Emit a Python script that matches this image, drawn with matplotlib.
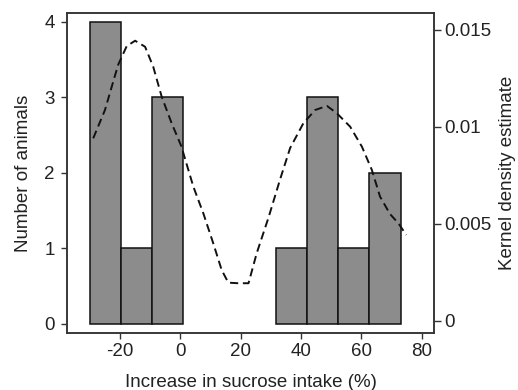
import matplotlib
matplotlib.use("Agg")
import matplotlib.pyplot as plt

plt.rcParams['font.family'] = ['Liberation Sans', 'DejaVu Sans']
plt.rcParams['axes.unicode_minus'] = False

# Histogram bins (edges) and counts
bin_edges = [-30.0, -19.7, -9.4, 0.9, 11.2, 21.5, 31.8, 42.1, 52.4, 62.7, 73.0]
counts = [4, 1, 3, 0, 0, 0, 1, 3, 1, 2]

# Kernel density curve
kde_x = [-28.9, -25.0, -22.5, -20.6, -17.8, -15.0, -11.7, -9.0, -6.2, -2.9, 0.3,
         4.3, 7.6, 10.9, 13.7, 15.9, 19.2, 22.6, 25.3, 29.3, 33.1,
         36.4, 40.8, 44.7, 48.6, 51.9, 56.3, 60.2, 63.5, 66.2, 69.5, 72.3, 74.9]
kde_y = [0.0094, 0.01086, 0.01220, 0.01320, 0.01415, 0.01443, 0.01412, 0.01309, 0.01155, 0.01018, 0.0090,
         0.00691, 0.00554, 0.00399, 0.00261, 0.00196, 0.00193, 0.00193, 0.00347, 0.00535, 0.0073,
         0.0089, 0.01018, 0.01086, 0.01107, 0.01069, 0.0100, 0.00897, 0.00777, 0.00640, 0.00550, 0.00502, 0.00442]

x_ticks = [-20, 0, 20, 40, 60, 80]
left_ticks = [0, 1, 2, 3, 4]
right_ticks = [0, 0.005, 0.01, 0.015]
right_labels = ['0', '0.005', '0.01', '0.015']

fig = plt.figure(figsize=(5.18, 3.90), dpi=100)
ax = fig.add_axes([0.1293, 0.1462, 0.8378 - 0.1293, 0.9667 - 0.1462])

lefts = [bin_edges[i] for i in range(len(counts)) if counts[i] > 0]
widths = [bin_edges[i + 1] - bin_edges[i] for i in range(len(counts)) if counts[i] > 0]
heights = [c for c in counts if c > 0]
ax.bar(lefts, heights, width=widths, align='edge',
       color='#8c8c8c', edgecolor='#111111', linewidth=1.1, zorder=2)

ax.set_xlim(-37.6, 84.1)
ax.set_ylim(-0.12, 4.115)
ax.set_xticks(x_ticks)
ax.set_xticklabels([str(v) for v in x_ticks])
ax.set_yticks(left_ticks)
ax.set_yticklabels([str(v) for v in left_ticks])

tc = '#222222'
fs = 13.5
ax.tick_params(axis='both', direction='out', length=4.2, width=1, colors='#333333',
               labelcolor=tc, labelsize=fs)
ax.tick_params(axis='y', pad=4.5)
ax.tick_params(axis='x', pad=3)
for s in ax.spines.values():
    s.set_linewidth(1.1)
    s.set_color('#333333')

ax.set_xlabel('Increase in sucrose intake (%)', fontsize=13.5, color=tc, labelpad=10)
ax.set_ylabel('Number of animals', fontsize=13.5, color=tc, labelpad=9)

ax2 = ax.twinx()
ax2.plot(kde_x, kde_y, color='#111111', linestyle=(0, (4.2, 2.4)), linewidth=1.4, zorder=3)
ax2.set_ylim(-0.000634, 0.01586)
ax2.set_yticks(right_ticks)
ax2.set_yticklabels(right_labels)
ax2.tick_params(axis='y', direction='out', length=4.8, width=1, colors='#333333',
                labelcolor=tc, labelsize=fs, pad=2.5)
for s in ax2.spines.values():
    s.set_linewidth(1.1)
    s.set_color('#333333')
ax2.set_ylabel('Kernel density estimate', fontsize=13.5, color=tc)
ax2.yaxis.label.set_verticalalignment('center')
ax2.yaxis.set_label_coords(1.199, 0.5)

fig.savefig('out.png', dpi=100)
